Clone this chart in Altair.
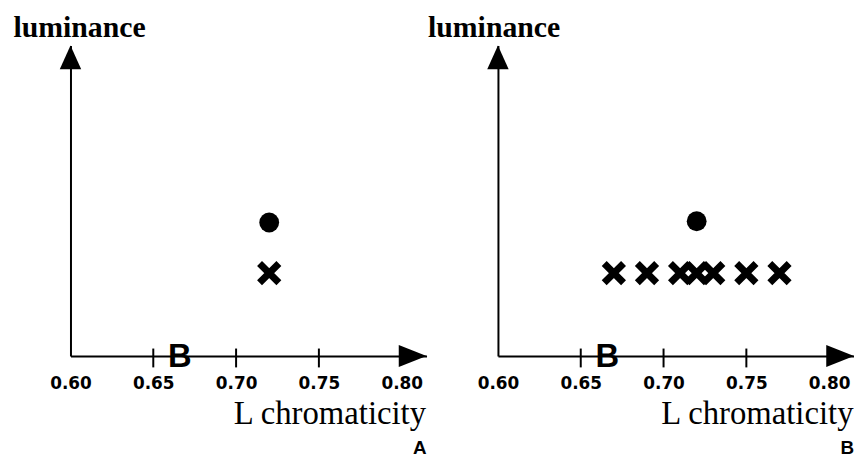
import altair as alt
import pandas as pd

# ---- data ----
x_tick_labels = [0.60, 0.65, 0.70, 0.75, 0.80]
inner_ticks = [0.65, 0.70, 0.75]
x_domain = [0.60, 0.815]
y_domain = [0.0, 1.0]
b_marker_x = [0.666]

dot_a_x = [0.72]
dot_a_y = [0.43]
cross_a_x = [0.72]
cross_a_y = [0.267]

dot_b_x = [0.72]
dot_b_y = [0.434]
cross_b_x = [0.67, 0.69, 0.71, 0.72, 0.73, 0.75, 0.77]
cross_b_y = [0.267] * 7

panel_letters = ["A", "B"]

UP_ARROW = "M0,0L0.9,2L-0.9,2Z"
RIGHT_ARROW = "M0,0L-2,-0.8L-2,0.8Z"
X_SHAPE = "M-1,-1L1,1M1,-1L-1,1"

W = 359
H = 313


def panel(letter, dots_x, dots_y, cr_x, cr_y, lum_dx):
    xs = alt.Scale(domain=x_domain, nice=False, zero=False)
    ys = alt.Scale(domain=y_domain, nice=False, zero=False)
    x_axis = alt.Axis(
        values=x_tick_labels, format=".2f", ticks=False, grid=False,
        domainColor="black", domainWidth=2, labelFlush=False, labelOverlap=False,
        labelFont="DejaVu Sans", labelFontWeight="bold", labelFontSize=17,
        labelColor="black", labelPadding=20,
        title="L chromaticity", titleFont="Liberation Serif", titleFontSize=33,
        titleFontWeight="normal", titleColor="black", titleAlign="right",
        titleAnchor="start", titleX=W - 1, titleY=68, titleBaseline="alphabetic",
    )
    y_axis = alt.Axis(
        labels=False, ticks=False, grid=False, domainColor="black", domainWidth=2,
        title="luminance", titleAngle=0, titleAlign="left", titleAnchor="start",
        titleBaseline="alphabetic", titleX=lum_dx, titleY=-9,
        titleFont="Liberation Serif", titleFontSize=30, titleFontWeight="bold",
        titleColor="black",
    )
    X = alt.X("x:Q", scale=xs, axis=x_axis)
    Y = alt.Y("y:Q", scale=ys, axis=y_axis)

    dots = alt.Chart(pd.DataFrame({"x": dots_x, "y": dots_y})).mark_circle(
        size=400, color="black", opacity=1
    ).encode(x=X, y=Y)
    crosses = alt.Chart(pd.DataFrame({"x": cr_x, "y": cr_y})).mark_point(
        shape=X_SHAPE, filled=False, stroke="black", strokeWidth=7, size=380,
        opacity=1, strokeCap="butt"
    ).encode(x=X, y=Y)
    ticks = alt.Chart(pd.DataFrame({"x": inner_ticks, "y": [0.0] * len(inner_ticks)})).mark_tick(
        orient="vertical", color="black", size=19, thickness=2, yOffset=2, opacity=1
    ).encode(x=X, y=Y)
    bmark = alt.Chart(pd.DataFrame({"x": b_marker_x, "y": [0.0], "t": ["B"]})).mark_text(
        font="Liberation Sans", fontWeight="bold", fontSize=33, color="black",
        align="center", baseline="middle", dy=1
    ).encode(x=X, y=Y, text="t:N")
    up = alt.Chart(pd.DataFrame({"x": [x_domain[0]], "y": [y_domain[1]]})).mark_point(
        shape=UP_ARROW, filled=True, color="black", size=576, opacity=1
    ).encode(x=X, y=Y)
    right = alt.Chart(pd.DataFrame({"x": [x_domain[1]], "y": [y_domain[0]]})).mark_point(
        shape=RIGHT_ARROW, filled=True, color="black", size=784, opacity=1
    ).encode(x=X, y=Y)

    return alt.layer(ticks, up, right, bmark, dots, crosses).properties(
        width=W, height=H,
        title=alt.TitleParams(
            letter, orient="bottom", anchor="end", font="Liberation Sans",
            fontWeight="bold", fontSize=19, color="black", offset=9,
        ),
    )


pa = panel(panel_letters[0], dot_a_x, dot_a_y, cross_a_x, cross_a_y, -58)
pb = panel(panel_letters[1], dot_b_x, dot_b_y, cross_b_x, cross_b_y, -71)

chart = alt.hconcat(pa, pb, spacing=1).properties(
    padding={"left": 5, "top": 3, "right": 0, "bottom": 0},
    background="white",
).configure_view(stroke=None, strokeWidth=0)

chart.save("out.html", embed_options={"renderer": "svg", "actions": False})
